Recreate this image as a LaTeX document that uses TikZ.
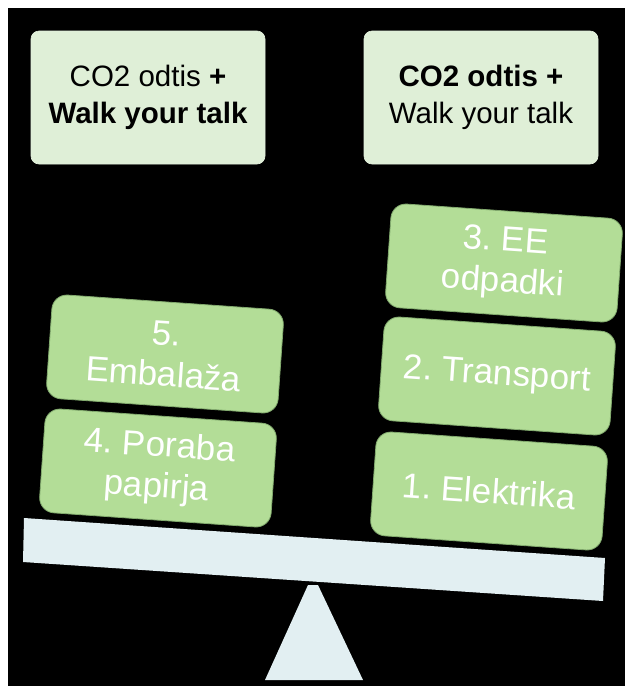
\documentclass[tikz,border=0pt]{standalone}
\usepackage{fontspec}
\setmainfont{Liberation Sans}
\frenchspacing
\definecolor{topfill}{RGB}{223,239,215}
\definecolor{boxfill}{RGB}{179,221,151}
\definecolor{boxedge}{RGB}{130,170,110}
\definecolor{beamcol}{RGB}{226,239,242}
\begin{document}
\begin{tikzpicture}[x=1pt,y=-1pt,
  topbox/.style={fill=topfill, draw=topfill!85!white, line width=0.6pt, rounded corners=8pt,
    minimum width=234pt, minimum height=133pt, inner sep=0pt, align=center,
    font=\fontsize{29.5}{37}\selectfont, text=black},
  greenbox/.style={fill=boxfill, draw=boxedge, line width=0.8pt, rounded corners=15pt,
    minimum width=232pt, minimum height=104pt, inner sep=0pt, align=center,
    font=\fontsize{35}{41}\selectfont, text=white, rotate=-4},
  scalepart/.style={fill=beamcol}]
\useasboundingbox (0,0) rectangle (625,686);
\fill[white] (0,0) rectangle (625,686);
\fill[black] (8,8) rectangle (625,686);
% top boxes
\node[topbox] (tl) at (148,97.5) {CO2 odtis \textbf{+}\\\textbf{Walk your talk}};
\node[topbox] (tr) at (481,97.5) {\textbf{CO2 odtis +}\\Walk your talk};
% scale
\fill[scalepart] (308,585) -- (318,585) -- (363,680) -- (265,680) -- cycle;
\fill[scalepart] (24,518) -- (605,558) -- (603,601) -- (23,562) -- cycle;
% left stack
\node[greenbox] (b5) at (165,354) {5.\\Embalaža};
\node[greenbox] (b4) at (158,468) {4. Poraba\\papirja};
% right stack
\node[greenbox] (b3) at (504,263) {3. EE\\odpadki};
\node[greenbox] (b2) at (497,376) {2. Transport};
\node[greenbox] (b1) at (489,491) {1. Elektrika};
\end{tikzpicture}
\end{document}
